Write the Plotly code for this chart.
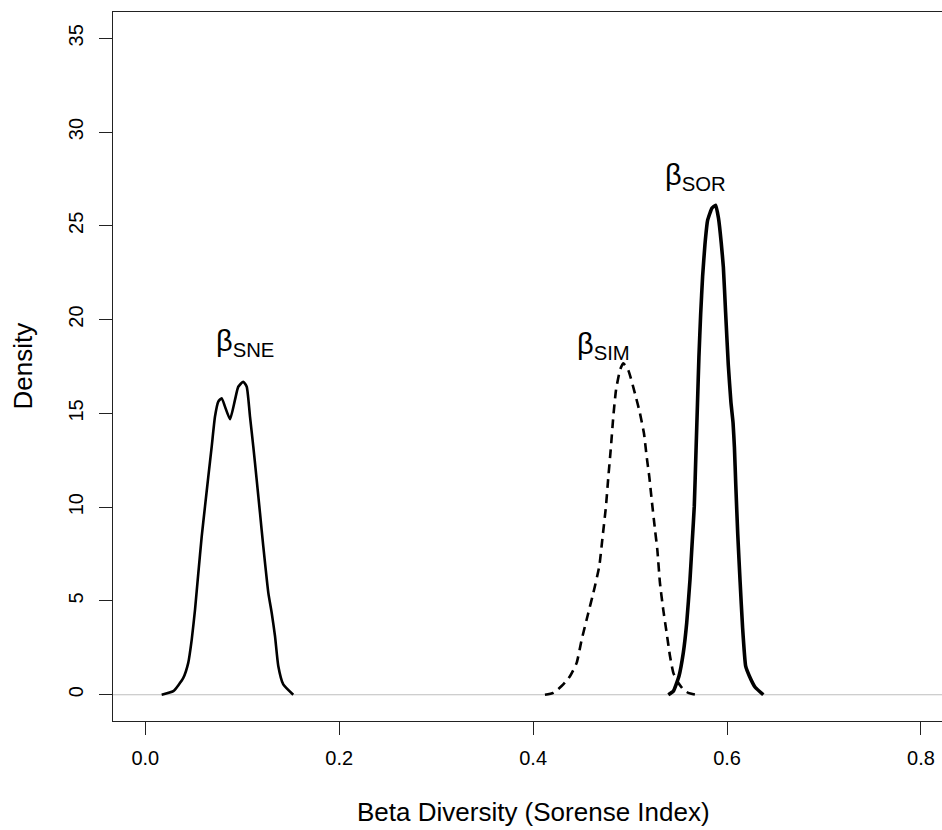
import plotly.graph_objects as go

# --- data ---
sne_x = [0.0169, 0.0289, 0.0392, 0.0443, 0.0479, 0.0513, 0.0547, 0.0582, 0.0616, 0.0650,
         0.0685, 0.0719, 0.0753, 0.0788, 0.0822, 0.0874, 0.0925, 0.0959, 0.1011, 0.1046,
         0.1080, 0.1114, 0.1149, 0.1183, 0.1217, 0.1269, 0.1304, 0.1338, 0.1372, 0.1423, 0.1526]
sne_y = [0.0, 0.19, 0.90, 1.70, 2.94, 4.54, 6.49, 8.44, 10.04, 11.63,
         13.23, 14.83, 15.63, 15.81, 15.36, 14.69, 15.72, 16.42, 16.69, 16.42,
         14.83, 13.23, 11.46, 9.69, 7.91, 5.43, 4.36, 3.12, 1.52, 0.55, 0.0]

sim_x = [0.4122, 0.4208, 0.4311, 0.4380, 0.4449, 0.4501, 0.4569, 0.4621, 0.4682, 0.4717,
         0.4751, 0.4776, 0.4800, 0.4827, 0.4855, 0.4896, 0.4929, 0.4981, 0.5050, 0.5102,
         0.5143, 0.5171, 0.5198, 0.5223, 0.5257, 0.5281, 0.5308, 0.5342, 0.5377, 0.5412,
         0.5446, 0.5497, 0.5549, 0.5600, 0.5680]
sim_y = [0.0, 0.10, 0.55, 0.99, 1.70, 2.94, 4.36, 5.43, 6.84, 8.44,
         10.04, 11.63, 13.05, 14.83, 16.25, 17.31, 17.67, 17.31, 16.07, 15.00,
         13.94, 12.70, 11.63, 10.39, 8.80, 7.73, 5.96, 4.54, 3.30, 2.05,
         1.17, 0.64, 0.28, 0.10, 0.0]

sor_x = [0.5394, 0.5446, 0.5504, 0.5549, 0.5584, 0.5618, 0.5642, 0.5662, 0.5680, 0.5695,
         0.5710, 0.5728, 0.5748, 0.5772, 0.5800, 0.5845, 0.5883, 0.5912, 0.5940, 0.5962,
         0.5985, 0.6013, 0.6040, 0.6062, 0.6076, 0.6090, 0.6110, 0.6135, 0.6160, 0.6192,
         0.6230, 0.6290, 0.6374]
sor_y = [0.0, 0.19, 0.99, 2.24, 3.83, 6.14, 8.26, 10.04, 13.00, 15.50,
         18.00, 20.30, 22.30, 24.00, 25.30, 25.95, 26.10, 25.40, 24.10, 22.80,
         20.40, 17.58, 15.60, 14.50, 13.20, 11.20, 8.60, 6.00, 3.60, 1.52,
         1.00, 0.40, 0.0]

labels = ["β<sub>SNE</sub>", "β<sub>SIM</sub>", "β<sub>SOR</sub>"]
label_x = [0.1025, 0.473, 0.567]
label_y = [18.75, 18.6, 27.6]

x_ticks = [0.0, 0.2, 0.4, 0.6, 0.8]
x_ticktext = ["0.0", "0.2", "0.4", "0.6", "0.8"]
y_ticks = [0, 5, 10, 15, 20, 25, 30, 35]

x_title = "Beta Diversity (Sorense Index)"
y_title = "Density"

FONT = "Liberation Sans, Arial, sans-serif"

fig = go.Figure()
fig.add_trace(go.Scatter(x=sne_x, y=sne_y, mode="lines",
                         line=dict(color="black", width=2.6, shape="spline", smoothing=0.5),
                         showlegend=False, hoverinfo="skip"))
fig.add_trace(go.Scatter(x=sim_x, y=sim_y, mode="lines",
                         line=dict(color="black", width=2.6, dash="9px,6px", shape="spline", smoothing=0.5),
                         showlegend=False, hoverinfo="skip"))
fig.add_trace(go.Scatter(x=sor_x, y=sor_y, mode="lines",
                         line=dict(color="black", width=3.6, shape="spline", smoothing=0.4),
                         showlegend=False, hoverinfo="skip"))

# gray zero line
fig.add_shape(type="line", xref="paper", x0=0, x1=1, yref="y", y0=0, y1=0,
              line=dict(color="#BEBEBE", width=1.2), layer="below")

for t, lx, ly in zip(labels, label_x, label_y):
    fig.add_annotation(x=lx, y=ly, xref="x", yref="y", text=t, showarrow=False,
                       font=dict(family=FONT, size=29, color="black"),
                       xanchor="center", yanchor="middle")

fig.add_annotation(x=0.4, y=0, xref="x", yref="paper", text=x_title, showarrow=False,
                   font=dict(family=FONT, size=26, color="black"),
                   xanchor="center", yanchor="middle", yshift=-91)
fig.add_annotation(x=0, y=0.5, xref="paper", yref="paper", text=y_title, showarrow=False,
                   font=dict(family=FONT, size=26, color="black"), textangle=-90,
                   xanchor="center", yanchor="middle", xshift=-91)

fig.update_layout(
    width=942, height=830,
    margin=dict(l=113, r=0, t=12, b=109),
    paper_bgcolor="white", plot_bgcolor="white",
    font=dict(family=FONT, color="black"),
    xaxis=dict(range=[-0.0333, 0.8217], tickvals=x_ticks, ticktext=x_ticktext,
               showgrid=False, zeroline=False, showline=True, mirror=True,
               linecolor="#222", linewidth=1.3, ticks="outside", ticklen=13,
               tickcolor="#222", tickwidth=1.3, tickfont=dict(size=20, family=FONT),
               ticklabelstandoff=6, fixedrange=True),
    yaxis=dict(range=[-1.4, 36.4], tickvals=y_ticks,
               showgrid=False, zeroline=False, showline=True, mirror=False,
               linecolor="#222", linewidth=1.3, ticks="outside", ticklen=13,
               tickcolor="#222", tickwidth=1.3, tickangle=-90,
               tickfont=dict(size=20, family=FONT), ticklabelstandoff=8,
               fixedrange=True),
)

fig.write_html("out.html")
